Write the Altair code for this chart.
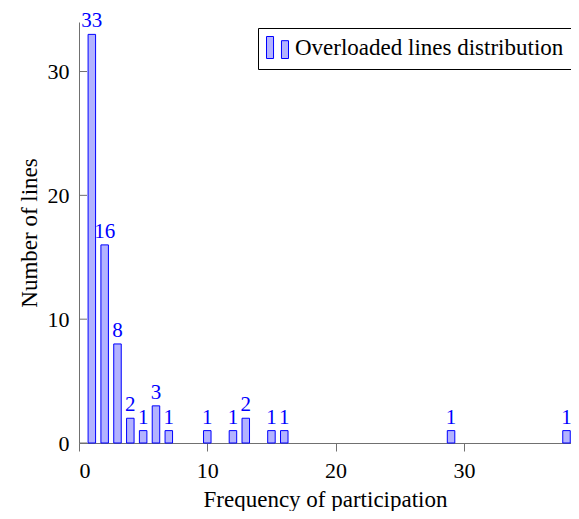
import altair as alt
import pandas as pd

freq = [1, 2, 3, 4, 5, 6, 7, 10, 12, 13, 15, 16, 29, 38]
count = [33, 16, 8, 2, 1, 3, 1, 1, 1, 2, 1, 1, 1, 1]
series = "Overloaded lines distribution"
x_ticks = [0, 10, 20, 30]
y_ticks = [0, 10, 20, 30]

df = pd.DataFrame({"freq": freq, "count": count, "series": [series] * len(freq)})
ticks_df = pd.DataFrame({"t": y_ticks})

FONT = "Liberation Serif"
FILL = "#b3b3ff"
BLUE = "#0000ff"
AXC = "#707070"

legend_path = "M-1,-1H-0.36V1H-1Z M0.36,-0.62H1V1H0.36Z"

x_scale = alt.Scale(domain=[0, 38.35], nice=False, zero=False, padding=0)
y_scale = alt.Scale(domain=[0, 34], nice=False, padding=0)

base = alt.Chart(df)

bars = base.mark_bar(size=7.5, stroke=BLUE, strokeWidth=1).encode(
    x=alt.X("freq:Q", scale=x_scale,
            axis=alt.Axis(title="Frequency of participation", values=x_ticks,
                          grid=False, domainColor=AXC, tickColor=AXC, tickSize=8,
                          labelFont=FONT, labelFontSize=22, labelColor="black",
                          labelPadding=9, titleFont=FONT, titleFontSize=23,
                          titleFontWeight="normal", titleColor="black", titlePadding=7)),
    y=alt.Y("count:Q", scale=y_scale,
            axis=alt.Axis(title="Number of lines", values=y_ticks, grid=False,
                          domainColor=AXC, ticks=False, labelFont=FONT,
                          labelFontSize=22, labelColor="black", labelPadding=10,
                          titleFont=FONT, titleFontSize=23, titleFontWeight="normal",
                          titleColor="black", titlePadding=6)),
    fill=alt.Fill("series:N", scale=alt.Scale(range=[FILL]),
                  legend=alt.Legend(title=None, orient="none", legendX=179, legendY=6,
                                    strokeColor="black", fillColor="white", padding=8,
                                    cornerRadius=0, symbolType=legend_path,
                                    symbolSize=484, symbolStrokeColor=BLUE,
                                    symbolStrokeWidth=1, symbolOpacity=1,
                                    labelFont=FONT, labelFontSize=23, labelColor="black",
                                    labelOffset=6, labelLimit=400)),
)

labels = base.mark_text(font=FONT, fontSize=21, color=BLUE, baseline="alphabetic",
                        dy=-7).encode(
    x=alt.X("freq:Q", scale=x_scale),
    y=alt.Y("count:Q", scale=y_scale),
    text=alt.Text("count:Q"),
)

yticks = alt.Chart(ticks_df).mark_rule(color=AXC, strokeWidth=1).encode(
    y=alt.Y("t:Q", scale=y_scale),
    x=alt.value(0),
    x2=alt.value(8),
)

chart = alt.layer(yticks, bars, labels).properties(
    width=492, height=421,
    autosize=alt.AutoSizeParams(type="none"),
    padding={"left": 71, "top": 14, "right": 0, "bottom": 68},
).configure_view(stroke=None).configure_axis(domainWidth=1)

chart.save("out.html", embed_options={"renderer": "svg", "actions": False})
